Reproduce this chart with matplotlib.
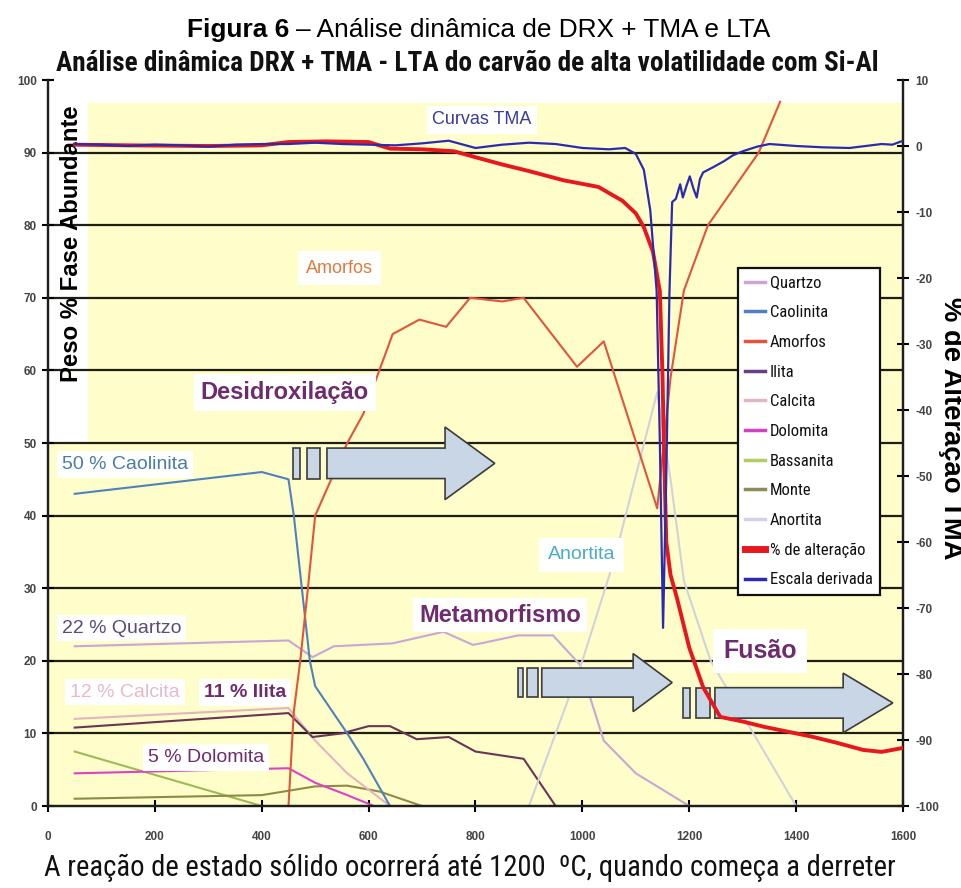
import matplotlib
matplotlib.use("Agg")
import matplotlib.pyplot as plt
from matplotlib import font_manager as fm
from matplotlib.font_manager import FontProperties
from matplotlib.patches import Rectangle, Polygon
from matplotlib.lines import Line2D


# Fonts: look for a narrow sans (the chart uses an Arial Narrow look)
ARIAL = ["Liberation Sans", "DejaVu Sans"]
installed = fm.fontManager.ttflist
NARROW, STRETCH = "Liberation Sans", "normal"
for name in ["Liberation Sans Narrow", "Arial Narrow", "DejaVu Sans Condensed", "Roboto Condensed"]:
    if any(f.name == name for f in installed):
        NARROW = name
        break
else:
    if any(f.name == "DejaVu Sans" and f.stretch == "condensed" for f in installed):
        NARROW, STRETCH = "DejaVu Sans", "condensed"

plt.rcParams["font.family"] = ARIAL
plt.rcParams["axes.unicode_minus"] = False


# Mineral phases (left axis, weight %), temperature in C
quartzo_t = [50, 450, 495, 535, 645, 740, 795, 810, 880, 945, 995, 1040, 1100, 1160, 1200]
quartzo_v = [22, 22.8, 20.5, 22, 22.4, 24, 22.2, 22.4, 23.5, 23.5, 19.5, 9, 4.5, 1.8, 0]

caolinita_t = [50, 400, 450, 460, 490, 500, 560, 590, 640]
caolinita_v = [43, 46, 45, 40, 20, 16.5, 10, 6.5, 0]

amorfos_t = [450, 460, 472, 485, 500, 560, 590, 620, 645, 695, 745, 790, 850, 890,
             990, 1040, 1140, 1165, 1190, 1235, 1330, 1370]
amorfos_v = [0, 13, 20, 29, 40, 50, 54, 60, 65, 67, 66, 70, 69.5, 70,
             60.5, 64, 41, 59, 71, 80, 90, 97]

ilita_t = [50, 450, 495, 550, 600, 640, 690, 750, 800, 890, 950]
ilita_v = [10.8, 12.8, 9.5, 10, 11, 11, 9.2, 9.5, 7.5, 6.5, 0]

calcita_t = [50, 450, 500, 560, 640]
calcita_v = [12, 13.5, 9, 4.5, 0]

dolomita_t = [50, 450, 500, 560, 610]
dolomita_v = [4.5, 5.2, 3.2, 1.5, 0]

bassanita_t = [50, 400]
bassanita_v = [7.5, 0]

monte_t = [50, 400, 500, 560, 620, 700]
monte_v = [1, 1.5, 2.7, 2.8, 2, 0]

anortita_t = [900, 1000, 1060, 1140, 1165, 1190, 1240, 1320, 1400]
anortita_v = [0, 20, 34, 57, 45, 31, 20, 10, 0]

# TMA curves (right axis, % de alteração)
alteracao_t = [50, 150, 300, 400, 450, 520, 600, 640, 700, 760, 800, 850, 900, 965,
               1030, 1075, 1100, 1115, 1132, 1145, 1150, 1153, 1157, 1165, 1177, 1200,
               1226, 1258, 1300, 1340, 1400, 1430, 1480, 1525, 1560, 1600]
alteracao_v = [0.2, 0.1, 0, 0.1, 0.6, 0.7, 0.6, -0.4, -0.5, -0.8, -1.7, -2.8, -3.8, -5.2,
               -6.2, -8.3, -10.2, -12.3, -16, -22, -35, -47, -60, -65, -68.5, -76,
               -82, -86.5, -87.2, -88, -89, -89.5, -90.5, -91.5, -91.8, -91.2]

derivada_t = [50, 100, 150, 200, 250, 300, 350, 400, 450, 500, 550, 600, 650, 700, 750,
              800, 850, 900, 950, 1000, 1050, 1080, 1100, 1115, 1127, 1139, 1145, 1151,
              1157, 1163, 1168, 1175, 1183, 1188, 1195, 1201, 1208, 1214, 1220, 1226,
              1245, 1265, 1282, 1300, 1327, 1350, 1400, 1450, 1500, 1530, 1560, 1580, 1600]
derivada_v = [0.3, 0.2, 0, 0.2, 0.1, -0.1, 0.2, 0.3, 0.3, 0.5, 0.3, 0.2, 0.1, 0.4, 0.8,
              -0.3, 0.2, 0.5, 0.3, -0.3, -0.5, -0.3, -1.2, -3.6, -9.7, -22, -45, -73,
              -50, -22, -8.5, -8, -5.8, -7.8, -6, -4.6, -6.5, -7.8, -5, -4,
              -3.2, -2.3, -1.4, -0.8, -0.1, 0.3, 0, -0.2, -0.3, 0, 0.3, 0.2, 0.8]

left_ticks = list(range(0, 101, 10))
right_ticks = list(range(-100, 11, 10))
x_ticks = list(range(0, 1601, 200))


# Figure
fig = plt.figure(figsize=(9.62, 8.88), dpi=100)
ax = fig.add_axes([48 / 962, 1 - 806 / 888, 855 / 962, 726 / 888])
ax.set_xlim(0, 1600)
ax.set_ylim(0, 100)
ax.set_facecolor("white")

# Yellow plot area with white strip behind the y label
ax.add_patch(Rectangle((0, 0), 1600, 96.8, facecolor="#FFFDC9", edgecolor="none", zorder=0))
ax.add_patch(Rectangle((0, 50), 75, 47, facecolor="white", edgecolor="none", zorder=0.5))

for g in range(10, 100, 10):
    ax.axhline(g, color="#1E1E14", lw=1.6, zorder=1)

# Mineral lines
lw = 1.5
ax.plot(bassanita_t, bassanita_v, color="#9BBB59", lw=lw, zorder=2)
ax.plot(monte_t, monte_v, color="#8C8C46", lw=lw, zorder=2)
ax.plot(dolomita_t, dolomita_v, color="#E040C8", lw=lw, zorder=2)
ax.plot(calcita_t, calcita_v, color="#E3B5BF", lw=lw, zorder=2)
ax.plot(ilita_t, ilita_v, color="#6A3556", lw=lw, zorder=2)
ax.plot(quartzo_t, quartzo_v, color="#C9A6D6", lw=lw, zorder=2)
ax.plot(anortita_t, anortita_v, color="#D2D2DE", lw=lw, zorder=2)
ax.plot(caolinita_t, caolinita_v, color="#4F81BD", lw=lw, zorder=2)
ax.plot(amorfos_t, amorfos_v, color="#E2553C", lw=lw, zorder=2, clip_on=False)


# Block arrows (fast-forward style)
def block_arrow(ax, rects, x0, x1, tip, yc, bh, hh):
    fc, ec = "#C9D6E6", "#3C3C3C"
    for a, b in rects:
        ax.add_patch(Rectangle((a, yc - bh), b - a, 2 * bh, facecolor=fc,
                               edgecolor=ec, lw=1.2, zorder=3))
    pts = [(x0, yc - bh), (x1, yc - bh), (x1, yc - hh), (tip, yc),
           (x1, yc + hh), (x1, yc + bh), (x0, yc + bh)]
    ax.add_patch(Polygon(pts, closed=True, facecolor=fc, edgecolor=ec, lw=1.2, zorder=3))


block_arrow(ax, [(458, 472), (485, 509)], 522, 743, 836, 47.2, 2.1, 5.0)
block_arrow(ax, [(879, 889), (896, 917)], 924, 1095, 1168, 17.0, 2.0, 4.0)
block_arrow(ax, [(1188, 1201), (1213, 1239)], 1248, 1488, 1581, 14.2, 2.1, 4.1)


# Labels with white boxes
def label(x, y, s, color, size, bold=False, pad=0.25):
    ax.text(x, y, s, color=color, fontsize=size, ha="center", va="center",
            fontweight="bold" if bold else "normal", zorder=4,
            bbox=dict(boxstyle=f"square,pad={pad}", facecolor="white", edgecolor="none"))


label(812, 94.5, "Curvas TMA", "#3B3B9A", 13, pad=0.3)
label(546, 74.1, "Amorfos", "#E07A3C", 13, pad=0.45)
label(443, 56.9, "Desidroxilação", "#6E2C6E", 17, bold=True, pad=0.3)
label(144, 47, "50 % Caolinita", "#4A7CA8", 14)
label(138, 24.5, "22 % Quartzo", "#5B4A7A", 14)
label(144, 15.7, "12 % Calcita", "#E8B8CC", 14)
label(369, 15.6, "11 % Ilita", "#6E2C6E", 14, bold=True)
label(296, 6.7, "5 % Dolomita", "#6E2C6E", 14)
label(846, 26.3, "Metamorfismo", "#6E2C6E", 17, bold=True)
label(999, 34.6, "Anortita", "#4BACC6", 14, pad=0.45)
label(1332, 21.3, "Fusão", "#6E2C6E", 18, bold=True, pad=0.4)


# Right axis: TMA
ax2 = ax.twinx()
ax2.set_ylim(-100, 10)
ax2.plot(alteracao_t, alteracao_v, color="#E8171E", lw=2.8, zorder=3)
ax2.plot(derivada_t, derivada_v, color="#2B2BB0", lw=1.6, zorder=4)

# Axes styling
for a in (ax, ax2):
    a.spines["top"].set_visible(False)
    for side in ("left", "right", "bottom"):
        a.spines[side].set_linewidth(1.6)
        a.spines[side].set_color("#1E1E1E")

ax.set_xticks(x_ticks)
ax.set_yticks(left_ticks)
ax2.set_yticks(right_ticks)
ax.tick_params(axis="x", direction="inout", length=8, width=1.5, pad=14,
               labelsize=8.5, labelcolor="#444444")
ax.tick_params(axis="y", direction="inout", length=8, width=1.5, pad=4,
               labelsize=8.5, labelcolor="#444444")
ax2.tick_params(axis="y", direction="inout", length=8, width=1.5, pad=5,
                labelsize=8.5, labelcolor="#444444")
for t in ax.get_xticklabels() + ax.get_yticklabels() + ax2.get_yticklabels():
    t.set_fontweight("bold")

# Titles and axis labels
title = ax.text(0.49, 1.023,
                "Análise dinâmica DRX + TMA - LTA do carvão de alta volatilidade com Si-Al",
                transform=ax.transAxes, ha="center", va="center", fontsize=18,
                fontweight="bold", family=NARROW, fontstretch=STRETCH, color="#111111",
                bbox=dict(facecolor="white", edgecolor="none", pad=1), zorder=5)
ylab = ax.text(0.027, 0.775, "Peso % Fase Abundante", transform=ax.transAxes, rotation=90,
               ha="center", va="center", fontsize=15, fontweight="bold", zorder=5)
ylab2 = ax2.text(1.056, 0.521, "% de Alteração TMA", transform=ax.transAxes, rotation=-90,
                 ha="center", va="center", fontsize=16, fontweight="bold")
xlab = ax.text(0.494, -0.085,
               "A reação de estado sólido ocorrerá até 1200  ºC, quando começa a derreter",
               transform=ax.transAxes, ha="center", va="center", fontsize=15,
               family=NARROW, fontstretch=STRETCH, color="#111111")

fig_b = fig.text(187 / 962, 0.966, "Figura 6", ha="left", va="center", fontsize=17,
                 fontweight="bold")
fig_r = fig.text(0.33, 0.966, "– Análise dinâmica de DRX + TMA e LTA", ha="left",
                 va="center", fontsize=17)

# Legend
handles = [
    Line2D([], [], color="#C9A6D6", lw=2.5, label="Quartzo"),
    Line2D([], [], color="#4F81BD", lw=2.5, label="Caolinita"),
    Line2D([], [], color="#E2553C", lw=2.5, label="Amorfos"),
    Line2D([], [], color="#6A3D8A", lw=2.5, label="Ilita"),
    Line2D([], [], color="#E3B5BF", lw=2.5, label="Calcita"),
    Line2D([], [], color="#D040C0", lw=2.5, label="Dolomita"),
    Line2D([], [], color="#B5CC60", lw=2.5, label="Bassanita"),
    Line2D([], [], color="#8C8C5A", lw=2.5, label="Monte"),
    Line2D([], [], color="#D2D2E6", lw=2.5, label="Anortita"),
    Line2D([], [], color="#E8171E", lw=5, label="% de alteração"),
    Line2D([], [], color="#2B2BB0", lw=2.5, label="Escala derivada"),
]
leg_size = 12 if NARROW != "Liberation Sans" else 10.5
leg = ax2.legend(handles=handles, loc="upper left", bbox_to_anchor=(0.807, 0.741),
                 prop=FontProperties(family=NARROW, stretch=STRETCH, size=leg_size),
                 frameon=True, fancybox=False, edgecolor="#111111", framealpha=1,
                 handlelength=1.15, handletextpad=0.3, labelspacing=0.88,
                 borderpad=0.45, borderaxespad=0)
leg.get_frame().set_linewidth(1.6)
leg.set_zorder(10)
for txt in leg.get_texts():
    txt.set_color("#111111")


# Fit the long texts to the widths seen in the reference
fig.canvas.draw()
renderer = fig.canvas.get_renderer()


def fit(t, target_px):
    bb = t.get_window_extent(renderer)
    t.set_fontsize(t.get_fontsize() * target_px / max(bb.width, bb.height))


fit(title, 822)
fit(xlab, 850)
fit(ylab, 278)
fit(ylab2, 262)
wb = fig_b.get_window_extent(renderer).width
wr = fig_r.get_window_extent(renderer).width
k = 580 / (wb + wr)
fig_b.set_fontsize(fig_b.get_fontsize() * k)
fig_r.set_fontsize(fig_r.get_fontsize() * k)
fig.canvas.draw()
wb = fig_b.get_window_extent(renderer).width
fig_r.set_x((187 + wb + 7) / 962)

fig.savefig("out.png", dpi=100)
